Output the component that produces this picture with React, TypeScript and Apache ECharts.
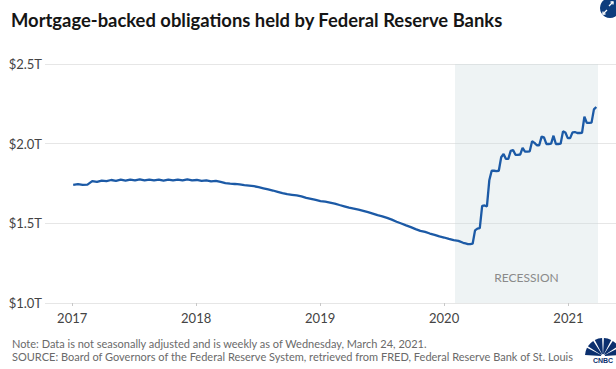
import React, { useEffect, useRef } from "react";
import * as echarts from "echarts";

const TITLE = "Mortgage-backed obligations held by Federal Reserve Banks";
const NOTE_LINES = [
  "Note: Data is not seasonally adjusted and is weekly as of Wednesday, March 24, 2021.",
  "SOURCE: Board of Governors of the Federal Reserve System, retrieved from FRED, Federal Reserve Bank of St. Louis",
];

const yTicks = [1.0, 1.5, 2.0, 2.5];
const yearLabels = ["2017", "2018", "2019", "2020", "2021"];
const xRange = ["2016-10-13", "2021-05-21"];
const recession = ["2020-02-02", "2021-03-29"];

const dates: string[] = [
  "2017-01-04","2017-01-18","2017-02-01","2017-02-15","2017-03-01","2017-03-15","2017-03-29","2017-04-12","2017-04-26","2017-05-10","2017-05-24","2017-06-07","2017-06-21","2017-07-05","2017-07-19","2017-08-02","2017-08-16","2017-08-30","2017-09-13","2017-09-27","2017-10-11","2017-10-25","2017-11-08","2017-11-22","2017-12-06","2017-12-20",
  "2018-01-03","2018-01-17","2018-01-31","2018-02-14","2018-02-28","2018-03-14","2018-03-28","2018-04-11","2018-04-25","2018-05-09","2018-05-23","2018-06-06","2018-06-20","2018-07-04","2018-07-18","2018-08-01","2018-08-15","2018-08-29","2018-09-12","2018-09-26","2018-10-10","2018-10-24","2018-11-07","2018-11-21","2018-12-05","2018-12-19",
  "2019-01-02","2019-01-16","2019-01-30","2019-02-13","2019-02-27","2019-03-13","2019-03-27","2019-04-10","2019-04-24","2019-05-08","2019-05-22","2019-06-05","2019-06-19","2019-07-03","2019-07-17","2019-07-31","2019-08-14","2019-08-28","2019-09-11","2019-09-25","2019-10-09","2019-10-23","2019-11-06","2019-11-20","2019-12-04","2019-12-18",
  "2020-01-01","2020-01-15","2020-01-29","2020-02-12","2020-02-26","2020-03-04","2020-03-11","2020-03-18","2020-03-25",
  "2020-04-01","2020-04-08","2020-04-15","2020-04-22","2020-04-29","2020-05-06","2020-05-13","2020-05-20","2020-05-27",
  "2020-06-03","2020-06-10","2020-06-17","2020-06-24","2020-07-01","2020-07-08","2020-07-15","2020-07-22","2020-07-29",
  "2020-08-05","2020-08-12","2020-08-19","2020-08-26","2020-09-02","2020-09-09","2020-09-16","2020-09-23","2020-09-30",
  "2020-10-07","2020-10-14","2020-10-21","2020-10-28","2020-11-04","2020-11-11","2020-11-18","2020-11-25",
  "2020-12-02","2020-12-09","2020-12-16","2020-12-23","2020-12-30",
  "2021-01-06","2021-01-13","2021-01-20","2021-01-27","2021-02-03","2021-02-10","2021-02-17","2021-02-24",
  "2021-03-03","2021-03-10","2021-03-17","2021-03-24",
];

const holdings: number[] = [
  1.742,1.746,1.741,1.743,1.765,1.760,1.768,1.765,1.772,1.767,1.774,1.768,1.775,1.769,1.776,1.769,1.775,1.769,1.775,1.768,1.775,1.769,1.775,1.769,1.776,1.769,
  1.772,1.766,1.770,1.763,1.767,1.760,1.752,1.749,1.747,1.744,1.740,1.737,1.733,1.727,1.720,1.713,1.706,1.698,1.690,1.683,1.679,1.675,1.669,1.660,1.654,1.647,
  1.640,1.636,1.630,1.624,1.615,1.607,1.598,1.592,1.586,1.578,1.570,1.561,1.551,1.544,1.534,1.523,1.510,1.499,1.487,1.476,1.464,1.453,1.446,1.436,1.428,1.418,
  1.411,1.402,1.394,1.390,1.378,1.374,1.370,1.369,1.372,
  1.456,1.467,1.470,1.610,1.612,1.606,1.770,1.830,1.830,
  1.828,1.830,1.915,1.935,1.904,1.905,1.955,1.960,1.930,
  1.930,1.932,1.973,1.950,1.950,1.952,2.015,2.005,1.990,
  1.990,2.044,2.040,1.998,1.998,2.000,2.050,1.998,
  1.998,2.000,2.077,2.070,2.035,
  2.035,2.071,2.073,2.067,2.067,2.068,2.169,2.130,
  2.130,2.132,2.215,2.230,
];

const FONT = "Lato, 'Open Sans', sans-serif";
const ts = (d: string) => Date.parse(d + "T00:00:00Z");

export default function App() {
  const ref = useRef<HTMLDivElement>(null);
  useEffect(() => {
    if (!ref.current) return;
    const chart = echarts.init(ref.current, undefined, { renderer: "svg" });
    const yearTs = yearLabels.map((y) => ts(`${y}-01-01`));
    const feathers = Array.from({ length: 6 }, (_, i) => ({
      type: "sector",
      shape: {
        cx: 603,
        cy: 356,
        r0: 2,
        r: 18,
        startAngle: -Math.PI + i * (Math.PI / 6) + 0.05,
        endAngle: -Math.PI + (i + 1) * (Math.PI / 6) - 0.05,
      },
      style: { fill: "#0b2f6e" },
    }));
    chart.setOption({
      animation: false,
      textStyle: { fontFamily: FONT },
      title: {
        text: TITLE,
        left: 11,
        top: 11,
        padding: 0,
        textStyle: { fontSize: 18.4, fontWeight: "bold", color: "#151515", fontFamily: FONT },
      },
      grid: { left: 45, right: 0, top: 64, bottom: 66 },
      xAxis: {
        type: "value",
        min: ts(xRange[0]),
        max: ts(xRange[1]),
        axisLine: { show: false },
        axisTick: { show: true, length: 3, lineStyle: { color: "#c8c8c8" }, customValues: yearTs },
        axisLabel: {
          customValues: yearTs,
          formatter: (v: number) => String(new Date(v).getUTCFullYear()),
          color: "#444",
          fontSize: 13,
          margin: 8,
          fontFamily: FONT,
        },
        splitLine: { show: false },
      },
      yAxis: {
        type: "value",
        min: 1.0,
        max: 2.5,
        interval: 0.5,
        axisLine: { show: false },
        axisTick: { show: false },
        axisLabel: {
          formatter: (v: number) => "$" + v.toFixed(1) + "T",
          color: "#444",
          fontSize: 13,
          margin: 3,
          fontFamily: FONT,
        },
        splitLine: { lineStyle: { color: "#e6e6e6", width: 1 } },
      },
      series: [
        {
          type: "line",
          data: dates.map((d, i) => [ts(d), holdings[i]]),
          showSymbol: false,
          clip: false,
          lineStyle: { color: "#1c5aa6", width: 2.3 },
          markArea: {
            silent: true,
            itemStyle: { color: "rgba(200,215,220,0.31)" },
            label: {
              show: true,
              position: "insideBottom",
              distance: 20,
              color: "#8a8a8a",
              fontSize: 12,
              fontFamily: FONT,
              formatter: "RECESSION",
            },
            data: [[{ xAxis: ts(recession[0]), yAxis: 2.58 }, { xAxis: ts(recession[1]), yAxis: 1.0 }]],
          },
        },
      ],
      graphic: [
        {
          type: "text",
          left: 12,
          top: 338,
          style: { text: NOTE_LINES[0], fontSize: 11, fill: "#6a6a6a", fontFamily: FONT },
        },
        {
          type: "text",
          left: 12,
          top: 351,
          style: { text: NOTE_LINES[1], fontSize: 11, fill: "#6a6a6a", fontFamily: FONT },
        },
        { type: "circle", shape: { cx: 610, cy: 8, r: 10 }, style: { fill: "#0d3d7d" } },
        { type: "polyline", shape: { points: [[609, 6], [613, 2]] }, style: { stroke: "#fff", lineWidth: 1.3 } },
        { type: "polyline", shape: { points: [[610.5, 2], [613, 2], [613, 4.5]] }, style: { stroke: "#fff", lineWidth: 1.3, fill: "none" } },
        { type: "polyline", shape: { points: [[607, 10], [603, 14]] }, style: { stroke: "#fff", lineWidth: 1.3 } },
        { type: "polyline", shape: { points: [[603, 11.5], [603, 14], [605.5, 14]] }, style: { stroke: "#fff", lineWidth: 1.3, fill: "none" } },
        ...feathers,
        {
          type: "text",
          x: 603,
          y: 360,
          style: { text: "CNBC", fontSize: 7, fontWeight: "bold", fill: "#0b2f6e", align: "center", verticalAlign: "middle", fontFamily: "Arial, sans-serif" },
        },
      ],
    });
    return () => chart.dispose();
  }, []);
  return <div ref={ref} style={{ width: 616, height: 369, position: "absolute", left: 0, top: 0 }} />;
}
